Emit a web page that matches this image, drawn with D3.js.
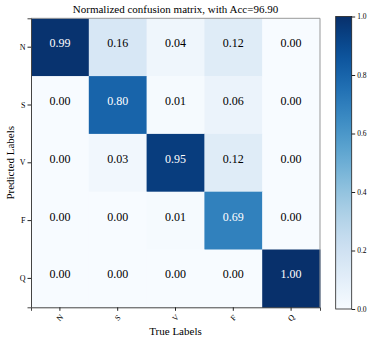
<!DOCTYPE html>
<html>
<head>
<meta charset="utf-8">
<script src="https://cdn.jsdelivr.net/npm/d3@7"></script>
<style>
  body { margin: 0; background: #fff; }
</style>
</head>
<body>
<svg id="chart" width="373" height="343"></svg>
<script>
// labels and values
var classes = ["N", "S", "V", "F", "Q"];
var matrix = [
  [0.99, 0.16, 0.04, 0.12, 0.00],
  [0.00, 0.80, 0.01, 0.06, 0.00],
  [0.00, 0.03, 0.95, 0.12, 0.00],
  [0.00, 0.00, 0.01, 0.69, 0.00],
  [0.00, 0.00, 0.00, 0.00, 1.00]
];
var cbTicks = [0.0, 0.2, 0.4, 0.6, 0.8, 1.0];
var titre = "Normalized confusion matrix, with Acc=96.90";

var svg = d3.select("#chart");
var left = 31, topY = 18.3, size = 289;

var x = d3.scaleBand().domain(classes).range([left, left + size]);
var y = d3.scaleBand().domain(classes).range([topY, topY + size]);
var color = d3.scaleSequential(d3.interpolateBlues).domain([0, 1]);

// cellules
var cells = [];
matrix.forEach(function(row, i) {
  row.forEach(function(v, j) { cells.push({r: classes[i], c: classes[j], v: v}); });
});

var g = svg.append("g");
g.selectAll("rect")
  .data(cells)
  .enter().append("rect")
  .attr("x", function(d) { return x(d.c); })
  .attr("y", function(d) { return y(d.r); })
  .attr("width", x.bandwidth() + 0.5)
  .attr("height", y.bandwidth() + 0.5)
  .style("fill", function(d) { return color(d.v); });

g.selectAll("text.val")
  .data(cells)
  .enter().append("text")
  .attr("class", "val")
  .attr("x", function(d) { return x(d.c) + x.bandwidth() / 2; })
  .attr("y", function(d) { return y(d.r) + y.bandwidth() / 2; })
  .attr("text-anchor", "middle")
  .style("font-size", "12px")
  .style("fill", function(d) { return d.v > 0.5 ? "#fff" : "#000"; })
  .text(function(d) { return d.v.toFixed(2); });

// cadre
svg.append("line").attr("x1", left).attr("x2", left + size).attr("y1", topY).attr("y2", topY)
  .style("stroke", "#999").style("stroke-width", 1);
svg.append("line").attr("x1", left + size).attr("x2", left + size).attr("y1", topY).attr("y2", topY + size)
  .style("stroke", "#999").style("stroke-width", 1);

// axes
var xAxis = svg.append("g")
  .attr("transform", "translate(0," + (topY + size) + ")")
  .call(d3.axisBottom(x).tickSize(3.5).tickPadding(4));
xAxis.selectAll("text")
  .style("font-size", "8px")
  .attr("text-anchor", "middle")
  .attr("dy", "0.35em")
  .attr("transform", function() {
    return "translate(0,3) rotate(-45 0 " + d3.select(this).attr("y") + ")";
  });

var yAxis = svg.append("g")
  .attr("transform", "translate(" + left + ",0)")
  .call(d3.axisLeft(y).tickSize(3.5).tickPadding(2));
yAxis.selectAll("text").style("font-size", "8px");

svg.selectAll(".domain").style("stroke", "#444");
svg.selectAll(".tick line").style("stroke", "#222");

// titres
svg.append("text")
  .attr("x", left + size / 2).attr("y", 13)
  .attr("text-anchor", "middle")
  .style("font-size", "11px")
  .text(titre);

svg.append("text")
  .attr("x", left + size / 2).attr("y", 335)
  .attr("text-anchor", "middle")
  .style("font-size", "11px")
  .text("True Labels");

svg.append("text")
  .attr("transform", "translate(14," + (topY + size / 2) + ") rotate(-90)")
  .attr("text-anchor", "middle")
  .style("font-size", "11px")
  .text("Predicted Labels");

// barre de couleur
var cbX = 335.7, cbW = 16, cbTop = 16.5, cbBot = 309;
var defs = svg.append("defs");
var grad = defs.append("linearGradient").attr("id", "cbgrad")
  .attr("x1", "0").attr("y1", "1").attr("x2", "0").attr("y2", "0");
d3.range(0, 1.0001, 0.05).forEach(function(t) {
  grad.append("stop").attr("offset", t).attr("stop-color", color(t));
});
svg.append("rect")
  .attr("x", cbX).attr("y", cbTop).attr("width", cbW).attr("height", cbBot - cbTop)
  .style("fill", "url(#cbgrad)")
  .style("stroke", "#222").style("stroke-width", 0.8);

var cbScale = d3.scaleLinear().domain([0, 1]).range([cbBot, cbTop]);
var cbAxis = svg.append("g")
  .attr("transform", "translate(" + (cbX + cbW) + ",0)")
  .call(d3.axisRight(cbScale).tickValues(cbTicks).tickFormat(d3.format(".1f")).tickSize(3.5).tickPadding(2));
cbAxis.select(".domain").remove();
cbAxis.selectAll("text").style("font-size", "7.5px");
cbAxis.selectAll(".tick line").style("stroke", "#222");

// police serif partout
svg.selectAll("g").attr("font-family", null);
svg.selectAll("text").style("font-family", "'Liberation Serif', 'Times New Roman', serif");
</script>
</body>
</html>
